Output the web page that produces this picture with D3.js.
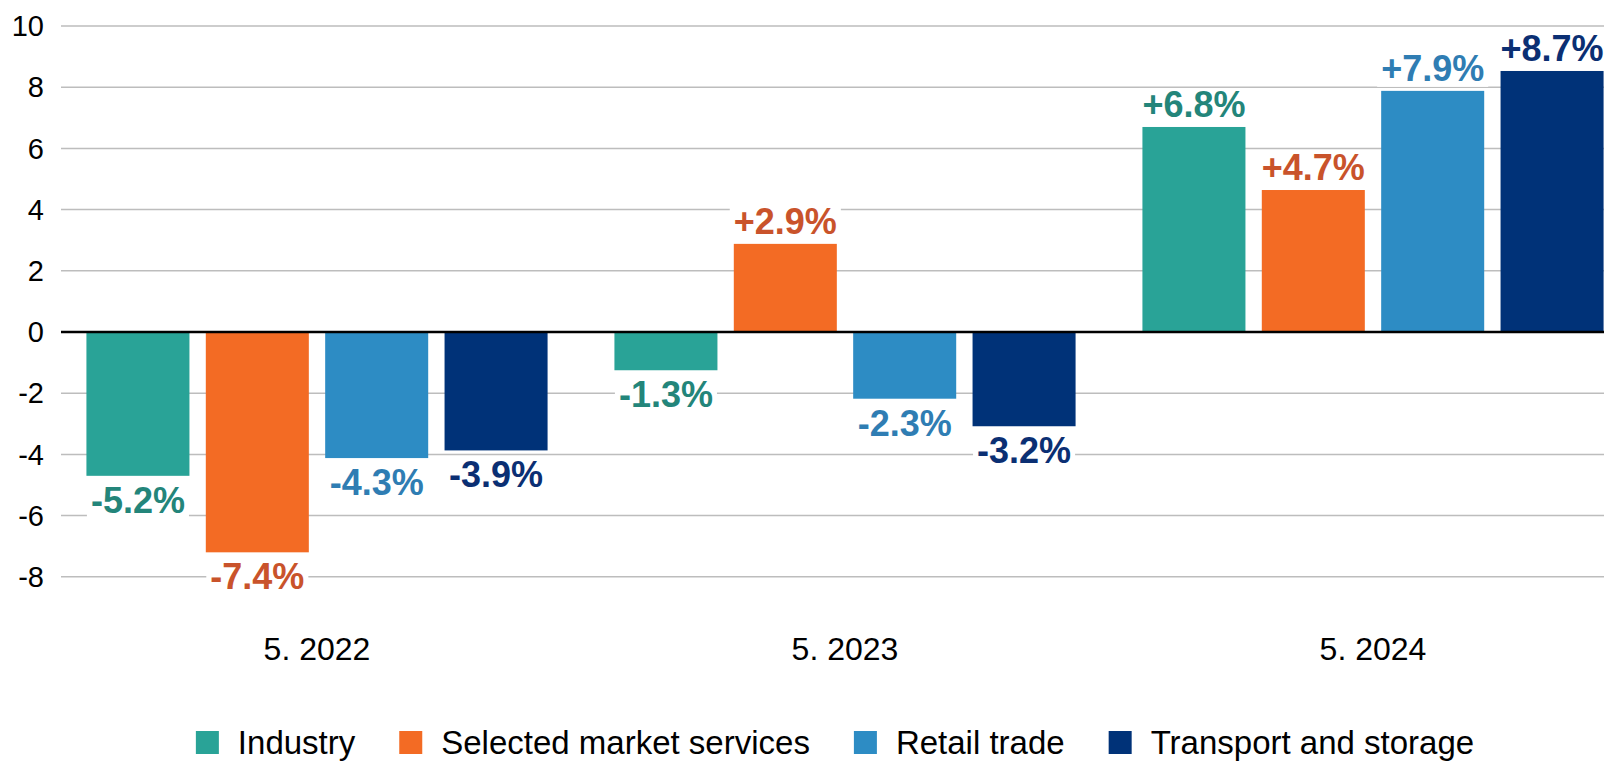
<!DOCTYPE html>
<html>
<head>
<meta charset="utf-8">
<script src="https://cdn.jsdelivr.net/npm/d3@7"></script>
<style>
  body { margin: 0; background: #fff; }
  svg { font-family: "Liberation Sans", Arial, sans-serif; }
</style>
</head>
<body>
<div id="chart"></div>
<script>
const categories = ["5. 2022", "5. 2023", "5. 2024"];
const seriesNames = ["Industry", "Selected market services", "Retail trade", "Transport and storage"];
// bar heights as drawn
const industry = [-4.7, -1.25, 6.7];
const services = [-7.2, 2.88, 4.64];
const retail = [-4.12, -2.18, 7.88];
const transport = [-3.87, -3.08, 8.53];
// printed labels
const industryLabels = ["-5.2%", "-1.3%", "+6.8%"];
const servicesLabels = ["-7.4%", "+2.9%", "+4.7%"];
const retailLabels = ["-4.3%", "-2.3%", "+7.9%"];
const transportLabels = ["-3.9%", "-3.2%", "+8.7%"];
const yTicks = [-8, -6, -4, -2, 0, 2, 4, 6, 8, 10];

const barColors = ["#29a397", "#f36b24", "#2d8cc4", "#003278"];
const labelColors = ["#23857a", "#c9532b", "#2f7db3", "#0b2f73"];

const width = 1612, height = 761;
const plotLeft = 61, plotRight = 1604, plotTop = 26, zeroY = 332;

const svg = d3.select("#chart").append("svg")
    .attr("width", width)
    .attr("height", height);

const y = d3.scaleLinear().domain([0, 10]).range([zeroY, plotTop]);

// groups are a bit wider than the plot: the last one runs to the right edge
const x0 = d3.scaleBand().domain(categories).range([53, 53 + 3 * 528]).padding(0);
const x1 = d3.scaleBand().domain(seriesNames).range([0, x0.bandwidth()])
    .paddingInner(0.137).paddingOuter(0.28);

// gridlines
svg.append("g")
    .selectAll("line")
    .data(yTicks.filter(t => t !== 0))
    .join("line")
    .attr("x1", plotLeft).attr("x2", plotRight)
    .attr("y1", d => y(d)).attr("y2", d => y(d))
    .attr("stroke", "#bdbdbd")
    .attr("stroke-width", 1.5);

// y tick labels
svg.append("g")
    .selectAll("text")
    .data(yTicks)
    .join("text")
    .attr("x", 44)
    .attr("y", d => y(d))
    .attr("dy", "0.35em")
    .attr("text-anchor", "end")
    .style("font-size", "29px")
    .style("fill", "#000")
    .text(d => d);

const series = [
    { name: seriesNames[0], values: industry, labels: industryLabels },
    { name: seriesNames[1], values: services, labels: servicesLabels },
    { name: seriesNames[2], values: retail, labels: retailLabels },
    { name: seriesNames[3], values: transport, labels: transportLabels }
];

const bars = [];
series.forEach((s, i) => {
    categories.forEach((c, j) => {
        bars.push({ cat: c, name: s.name, value: s.values[j], label: s.labels[j], idx: i });
    });
});

svg.append("g")
    .selectAll("rect")
    .data(bars)
    .join("rect")
    .attr("x", d => x0(d.cat) + x1(d.name))
    .attr("y", d => Math.min(y(d.value), y(0)))
    .attr("width", x1.bandwidth())
    .attr("height", d => Math.abs(y(d.value) - y(0)))
    .attr("fill", d => barColors[d.idx]);

// zero line
svg.append("line")
    .attr("x1", plotLeft).attr("x2", plotRight)
    .attr("y1", y(0)).attr("y2", y(0))
    .attr("stroke", "#000")
    .attr("stroke-width", 2.5);

// data labels with white backing
const labelG = svg.append("g");
const lab = labelG.selectAll("g")
    .data(bars)
    .join("g");

lab.append("rect").attr("fill", "#fff");
lab.append("text")
    .attr("x", d => x0(d.cat) + x1(d.name) + x1.bandwidth() / 2)
    .attr("y", d => d.value >= 0 ? y(d.value) - 10 : y(d.value) + 37)
    .attr("text-anchor", "middle")
    .style("font-size", "36px")
    .style("font-weight", "bold")
    .style("fill", d => labelColors[d.idx])
    .text(d => d.label);

lab.each(function() {
    const g = d3.select(this);
    const b = g.select("text").node().getBBox();
    g.select("rect")
        .attr("x", b.x - 4).attr("y", b.y + 4)
        .attr("width", b.width + 8).attr("height", b.height - 6);
});

// category labels
svg.append("g")
    .selectAll("text")
    .data(categories)
    .join("text")
    .attr("x", d => x0(d) + x0.bandwidth() / 2)
    .attr("y", 660)
    .attr("text-anchor", "middle")
    .style("font-size", "32px")
    .style("fill", "#000")
    .text(d => d);

// legend
const legend = svg.append("g");
const items = legend.selectAll("g")
    .data(seriesNames)
    .join("g");
items.append("rect")
    .attr("width", 23).attr("height", 23)
    .attr("y", 731)
    .attr("fill", (d, i) => barColors[i]);
items.append("text")
    .attr("x", 42)
    .attr("y", 754)
    .style("font-size", "33px")
    .style("fill", "#000")
    .text(d => d);

let pos = 0;
const offsets = [];
items.each(function() {
    const w = d3.select(this).select("text").node().getComputedTextLength();
    offsets.push(pos);
    pos += 42 + w + 44;
});
const total = pos - 44;
const startX = 835 - total / 2;
items.attr("transform", (d, i) => `translate(${startX + offsets[i]},0)`);
</script>
</body>
</html>
